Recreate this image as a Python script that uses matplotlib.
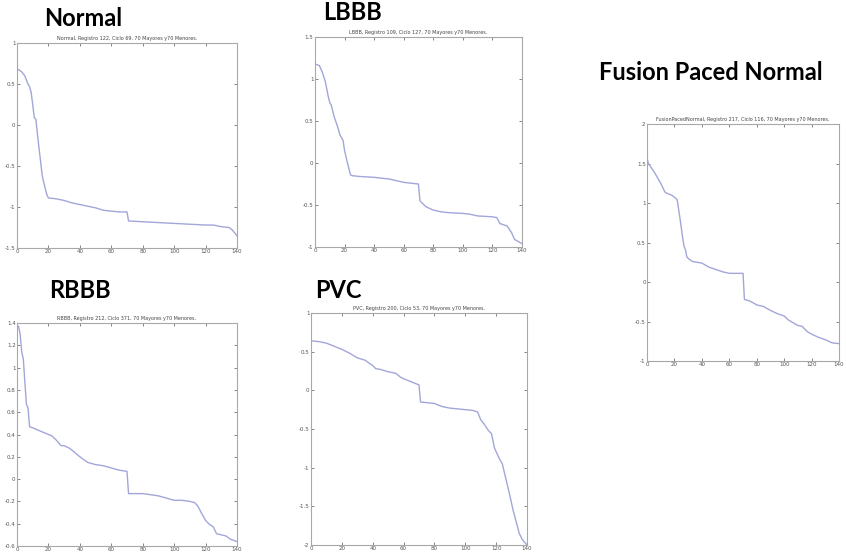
import matplotlib.pyplot as plt

# --- data (x index, sorted value) ---
normal_x = [0, 3, 5, 7, 8, 9, 10, 11, 12, 13, 14, 15, 16, 17, 19, 20, 25, 30, 35, 40,
            45, 50, 55, 60, 65, 70, 71, 80, 90, 100, 110, 120, 125, 130, 135, 137, 140]
normal_y = [0.69, 0.65, 0.60, 0.50, 0.47, 0.40, 0.25, 0.09, 0.07, -0.11, -0.28, -0.44,
            -0.61, -0.70, -0.85, -0.89, -0.90, -0.92, -0.95, -0.97, -0.99, -1.01, -1.04,
            -1.05, -1.06, -1.06, -1.17, -1.18, -1.19, -1.20, -1.21, -1.22, -1.22, -1.24,
            -1.25, -1.28, -1.35]

lbbb_x = [0, 3, 5, 7, 9, 10, 11, 13, 15, 17, 19, 20, 22, 24, 25, 30, 40, 50, 60, 65,
          70, 71, 75, 80, 85, 90, 100, 105, 110, 120, 123, 125, 130, 133, 135, 140]
lbbb_y = [1.18, 1.16, 1.08, 0.97, 0.79, 0.72, 0.69, 0.55, 0.45, 0.33, 0.27, 0.15, 0.0,
          -0.14, -0.15, -0.16, -0.17, -0.19, -0.23, -0.24, -0.25, -0.45, -0.52, -0.56,
          -0.58, -0.59, -0.60, -0.61, -0.63, -0.64, -0.65, -0.72, -0.75, -0.83, -0.91,
          -0.96]

fusion_x = [0, 1, 5, 10, 13, 15, 18, 21, 22, 24, 26, 27, 28, 29, 30, 33, 40, 45, 50, 55,
            60, 70, 71, 75, 80, 85, 90, 95, 100, 103, 110, 113, 117, 120, 125, 130, 135,
            140]
fusion_y = [1.57, 1.50, 1.40, 1.25, 1.14, 1.12, 1.10, 1.06, 1.04, 0.81, 0.56, 0.45, 0.41,
            0.32, 0.30, 0.26, 0.24, 0.19, 0.16, 0.13, 0.11, 0.11, -0.22, -0.24, -0.29,
            -0.31, -0.36, -0.40, -0.43, -0.48, -0.55, -0.56, -0.63, -0.66, -0.70, -0.73,
            -0.77, -0.78]

rbbb_x = [0, 1, 2, 3, 4, 5, 6, 7, 8, 10, 15, 20, 22, 25, 28, 30, 33, 35, 40, 45, 50, 55,
          60, 65, 70, 71, 80, 90, 95, 100, 105, 110, 113, 115, 118, 120, 122, 125, 127,
          130, 133, 136, 140]
rbbb_y = [1.38, 1.37, 1.30, 1.14, 1.08, 0.87, 0.67, 0.64, 0.47, 0.46, 0.43, 0.40, 0.39,
          0.35, 0.30, 0.30, 0.28, 0.26, 0.20, 0.15, 0.13, 0.12, 0.10, 0.08, 0.07, -0.13,
          -0.13, -0.15, -0.17, -0.19, -0.19, -0.20, -0.21, -0.24, -0.32, -0.37, -0.40,
          -0.43, -0.49, -0.50, -0.51, -0.54, -0.56]

pvc_x = [0, 5, 10, 15, 20, 25, 30, 35, 40, 42, 45, 50, 55, 58, 60, 65, 70, 71, 75, 80,
         85, 90, 95, 100, 105, 108, 110, 112, 115, 117, 119, 122, 124, 127, 129, 131, 133,
         135, 137, 140]
pvc_y = [0.64, 0.63, 0.61, 0.57, 0.53, 0.48, 0.42, 0.39, 0.32, 0.28, 0.27, 0.24, 0.22,
         0.17, 0.15, 0.11, 0.07, -0.15, -0.16, -0.17, -0.21, -0.23, -0.24, -0.25, -0.26,
         -0.28, -0.38, -0.43, -0.52, -0.56, -0.75, -0.88, -0.95, -1.20, -1.37, -1.55,
         -1.70, -1.85, -1.93, -2.00]

LINE = "#a2a6d8"
FRAME = "#a8a8a8"


def draw_panel(fig, rect, x, y, ylim, yticks, subtitle, heading, head_xy):
    ax = fig.add_axes(rect)
    ax.plot(x, y, color=LINE, lw=1.0)
    ax.set_xlim(0, 140)
    ax.set_ylim(*ylim)
    ax.set_xticks(range(0, 141, 20))
    ax.set_yticks(yticks)
    ax.set_yticklabels([f"{t:g}" for t in yticks])
    ax.tick_params(direction="in", length=2, width=0.5, labelsize=4, pad=1,
                   colors="#555555", top=True, right=True)
    for s in ax.spines.values():
        s.set_color(FRAME)
        s.set_linewidth(0.8)
    ax.set_title(subtitle, fontsize=3.5, pad=2, color="#444444")
    fig.text(head_xy[0] / 846, 1 - head_xy[1] / 558, heading, fontsize=17,
             fontweight="bold", family="Lato", ha="center", va="center")
    return ax


fig = plt.figure(figsize=(8.46, 5.58), dpi=100)

draw_panel(fig, [0.0201, 0.5556, 0.260, 0.367], normal_x, normal_y, (-1.5, 1),
           [-1.5, -1, -0.5, 0, 0.5, 1],
           "Normal, Registro 122, Ciclo 69, 70 Mayores y70 Menores.", "Normal", (83, 19))
draw_panel(fig, [0.3723, 0.5573, 0.2447, 0.3763], lbbb_x, lbbb_y, (-1, 1.5),
           [-1, -0.5, 0, 0.5, 1, 1.5],
           "LBBB, Registro 109, Ciclo 127, 70 Mayores y70 Menores.", "LBBB", (352, 13))
draw_panel(fig, [0.7648, 0.353, 0.227, 0.4247], fusion_x, fusion_y, (-1, 2),
           [-1, -0.5, 0, 0.5, 1, 1.5, 2],
           "FusionPacedNormal, Registro 217, Ciclo 116, 70 Mayores y70 Menores.",
           "Fusion Paced Normal", (711, 72))
draw_panel(fig, [0.0201, 0.0215, 0.260, 0.3996], rbbb_x, rbbb_y, (-0.6, 1.4),
           [-0.6, -0.4, -0.2, 0, 0.2, 0.4, 0.6, 0.8, 1, 1.2, 1.4],
           "RBBB, Registro 212, Ciclo 371, 70 Mayores y70 Menores.", "RBBB", (80, 291))
draw_panel(fig, [0.3676, 0.0233, 0.2553, 0.4158], pvc_x, pvc_y, (-2, 1),
           [-2, -1.5, -1, -0.5, 0, 0.5, 1],
           "PVC, Registro 200, Ciclo 53, 70 Mayores y70 Menores.", "PVC", (338, 290))

fig.savefig("out.png", dpi=100)
